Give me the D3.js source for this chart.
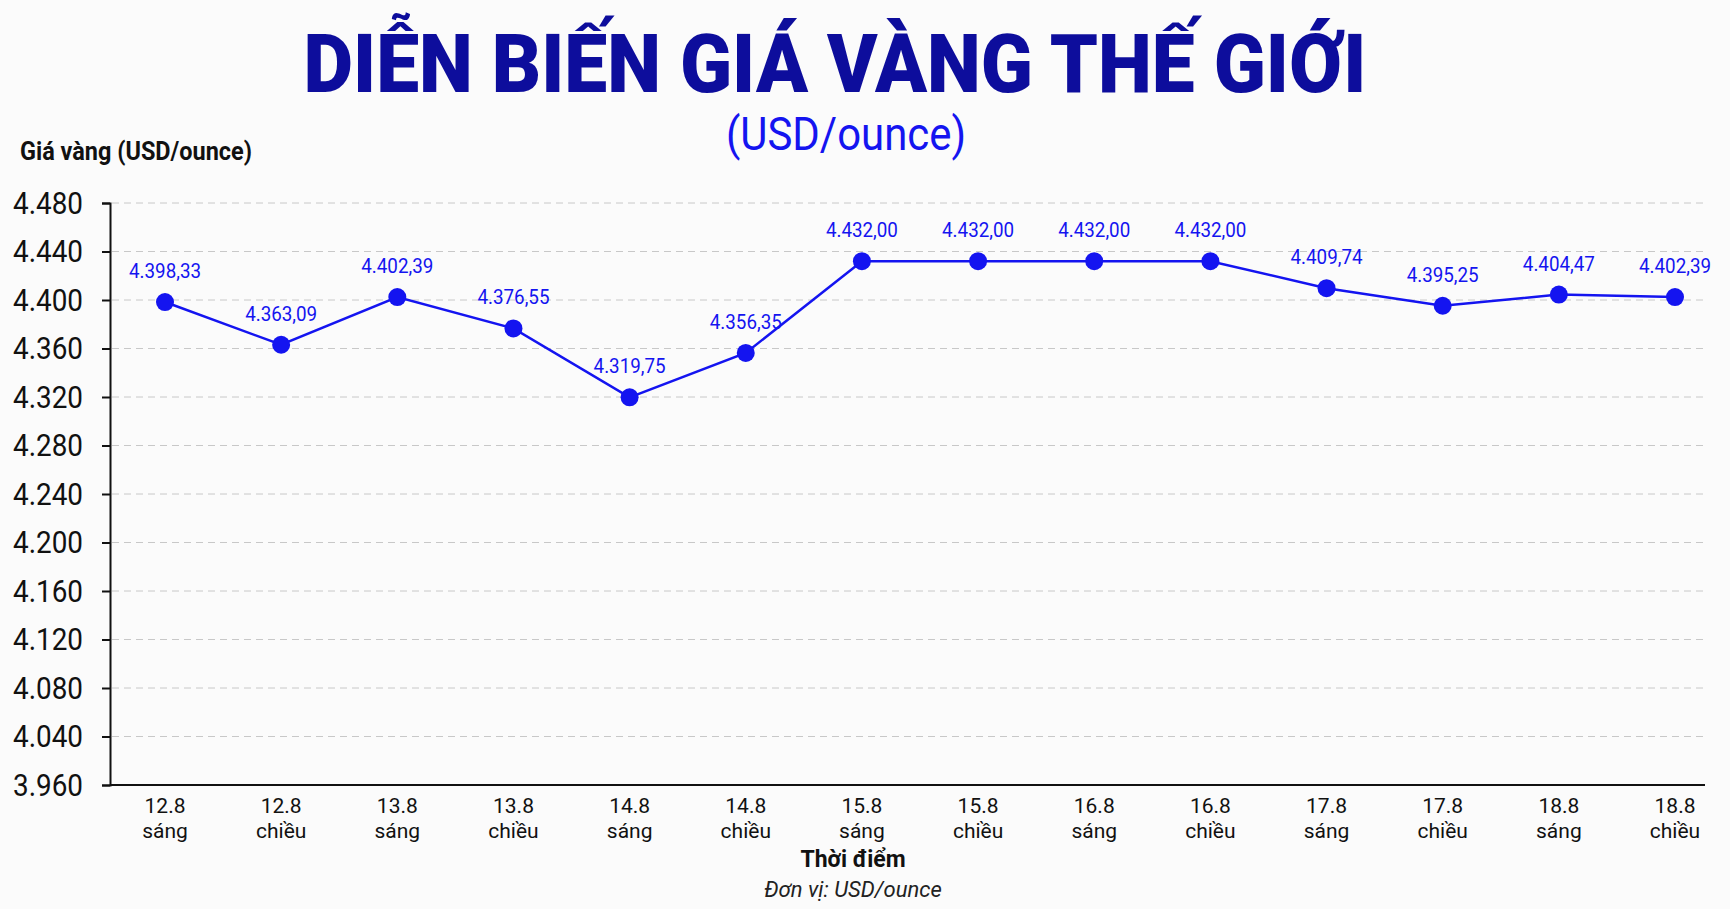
<!DOCTYPE html>
<html>
<head>
<meta charset="utf-8">
<script src="https://cdn.jsdelivr.net/npm/d3@7"></script>
<style>
  body { margin: 0; background: #fbfbfb; }
  text { font-family: Roboto, "Noto Sans", sans-serif; }
</style>
</head>
<body>
<svg id="chart"></svg>
<script>
// data
const days = ["12.8", "12.8", "13.8", "13.8", "14.8", "14.8", "15.8", "15.8", "16.8", "16.8", "17.8", "17.8", "18.8", "18.8"];
const parts = ["sáng", "chiều", "sáng", "chiều", "sáng", "chiều", "sáng", "chiều", "sáng", "chiều", "sáng", "chiều", "sáng", "chiều"];
const prices = [4398.33, 4363.09, 4402.39, 4376.55, 4319.75, 4356.35, 4432.00, 4432.00, 4432.00, 4432.00, 4409.74, 4395.25, 4404.47, 4402.39];
const tickValues = [4000, 4040, 4080, 4120, 4160, 4200, 4240, 4280, 4320, 4360, 4400, 4440, 4480];
const tickLabels = ["3.960", "4.040", "4.080", "4.120", "4.160", "4.200", "4.240", "4.280", "4.320", "4.360", "4.400", "4.440", "4.480"];

const width = 1730, height = 909;
const blue = "#1414f0";

const svg = d3.select("#chart").attr("width", width).attr("height", height);

const x = d3.scalePoint().domain(d3.range(prices.length)).range([165, 1675]);
const y = d3.scaleLinear().domain([4000, 4480]).range([785, 203]);

const fmt = v => v.toFixed(2).replace(".", ",").replace(/\B(?=(\d{3})+(?!\d))/g, ".");

// condensed look: squeeze text to a set length
function cond(sel, len) {
  sel.attr("textLength", len).attr("lengthAdjust", "spacingAndGlyphs");
}

// title
svg.append("text").attr("x", 835).attr("y", 92).attr("text-anchor", "middle")
  .attr("font-size", 82).attr("font-weight", 900).attr("fill", "#0d0d9c")
  .text("DIỄN BIẾN GIÁ VÀNG THẾ GIỚI").call(cond, 1063);
svg.append("text").attr("x", 846).attr("y", 150).attr("text-anchor", "middle")
  .attr("font-size", 46).attr("fill", blue)
  .text("(USD/ounce)").call(cond, 240);
svg.append("text").attr("x", 20).attr("y", 160)
  .attr("font-size", 25).attr("font-weight", 700).attr("fill", "#111")
  .text("Giá vàng (USD/ounce)").call(cond, 232);

// grid
svg.append("g").selectAll("line").data(tickValues.slice(1)).join("line")
  .attr("x1", 112).attr("x2", 1705)
  .attr("y1", d => y(d)).attr("y2", d => y(d))
  .attr("stroke", "#c8c8c8").attr("stroke-dasharray", "7,5");

// y axis
const yAxis = svg.append("g").attr("transform", "translate(110,0)")
  .call(d3.axisLeft(y).tickValues(tickValues).tickSize(8).tickFormat((d, i) => tickLabels[i]));
yAxis.select(".domain").attr("stroke", "#111").attr("stroke-width", 2);
yAxis.selectAll(".tick line").attr("stroke", "#111").attr("stroke-width", 2);
yAxis.selectAll(".tick text").attr("font-size", 32).attr("fill", "#111").attr("x", -27)
  .attr("font-family", "Roboto").call(cond, 70);

// x axis baseline
svg.append("line").attr("x1", 110).attr("x2", 1705).attr("y1", 785).attr("y2", 785)
  .attr("stroke", "#111").attr("stroke-width", 2);

const xl = svg.append("g").selectAll("g").data(prices).join("g")
  .attr("transform", (d, i) => `translate(${x(i)},0)`);
xl.append("text").attr("y", 813).attr("text-anchor", "middle").attr("font-size", 21).attr("fill", "#111")
  .text((d, i) => days[i]);
xl.append("text").attr("y", 838).attr("text-anchor", "middle").attr("font-size", 21).attr("fill", "#111")
  .text((d, i) => parts[i]);

svg.append("text").attr("x", 853).attr("y", 867).attr("text-anchor", "middle")
  .attr("font-size", 23).attr("font-weight", 700).attr("fill", "#111").text("Thời điểm");
svg.append("text").attr("x", 853).attr("y", 897).attr("text-anchor", "middle")
  .attr("font-size", 22).attr("font-style", "italic").attr("fill", "#222").text("Đơn vị: USD/ounce");

// line + points
svg.append("path").datum(prices)
  .attr("d", d3.line().x((d, i) => x(i)).y(d => y(d)))
  .attr("fill", "none").attr("stroke", blue).attr("stroke-width", 2.5);

svg.append("g").selectAll("circle").data(prices).join("circle")
  .attr("cx", (d, i) => x(i)).attr("cy", d => y(d)).attr("r", 9).attr("fill", blue);

svg.append("g").selectAll("text").data(prices).join("text")
  .attr("x", (d, i) => x(i)).attr("y", d => y(d) - 24)
  .attr("text-anchor", "middle").attr("font-size", 20).attr("fill", blue)
  .text(d => fmt(d)).call(cond, 72);
</script>
</body>
</html>
